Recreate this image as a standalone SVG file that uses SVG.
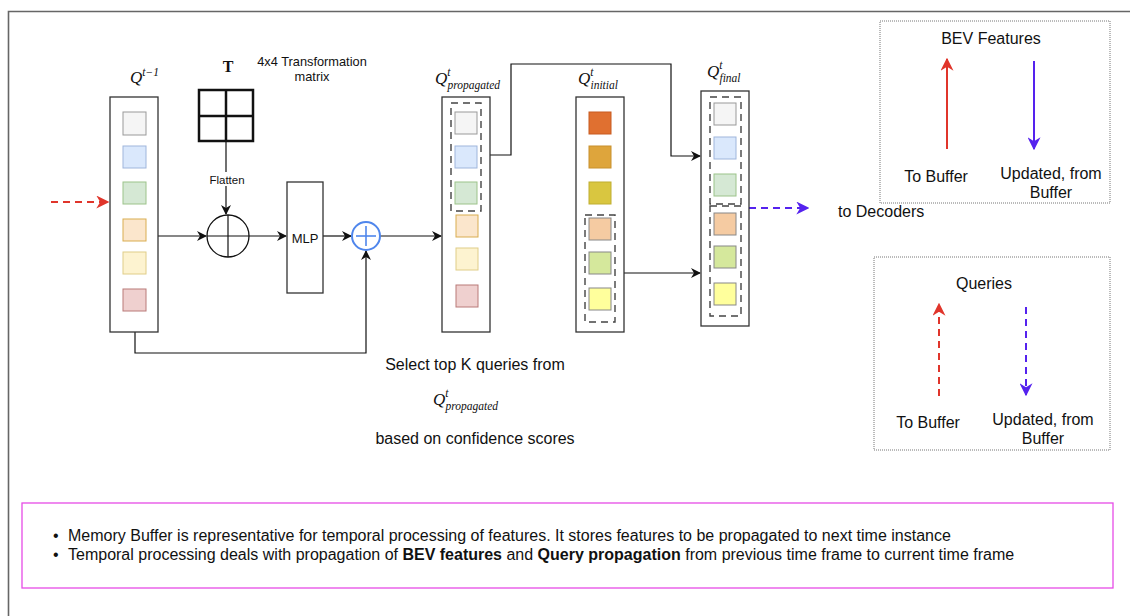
<svg xmlns="http://www.w3.org/2000/svg" width="1130" height="616" viewBox="0 0 1130 616">
  <style>
    .col { fill: #ffffff; stroke: #333333; stroke-width: 1.3; }
    .grp { fill: none; stroke: #444444; stroke-width: 1.4; stroke-dasharray: 7 5; }
    .edge { fill: none; stroke: #111111; stroke-width: 1.2; }
    .flow-in { fill: none; stroke: #e0352b; stroke-width: 2; stroke-dasharray: 7 5; }
    .flow-out { fill: none; stroke: #5522ee; stroke-width: 2; stroke-dasharray: 7 5; }
    .lbl { font-family: "Liberation Sans", Arial, sans-serif; fill: #111111; }
    .math { font-family: "Liberation Serif", "DejaVu Serif", serif; font-style: italic; fill: #111111; }
    .legend { fill: none; stroke: #777777; stroke-width: 1; stroke-dasharray: 1 1; }
  </style>
  <defs>
    <marker id="ah" viewBox="0 0 10 10" refX="9" refY="5" markerWidth="10" markerHeight="10" markerUnits="userSpaceOnUse" orient="auto">
      <path d="M0,0 L10,5 L0,10 L3,5 z" fill="#111111"/>
    </marker>
    <marker id="ahRed" viewBox="0 0 10 10" refX="9" refY="5" markerWidth="13" markerHeight="13" markerUnits="userSpaceOnUse" orient="auto">
      <path d="M0,0 L10,5 L0,10 L3,5 z" fill="#e0352b"/>
    </marker>
    <marker id="ahBlue" viewBox="0 0 10 10" refX="9" refY="5" markerWidth="13" markerHeight="13" markerUnits="userSpaceOnUse" orient="auto">
      <path d="M0,0 L10,5 L0,10 L3,5 z" fill="#5522ee"/>
    </marker>
  </defs>

  <rect width="1130" height="616" fill="#ffffff"/>
  <!-- frame -->
  <path d="M8.5,616 L8.5,11.5 L1130,11.5" fill="none" stroke="#666666" stroke-width="1.6"/>

  <!-- connectors -->
  <g id="connectors">
    <path class="flow-in" d="M51,202 L108,202" marker-end="url(#ahRed)"/>
    <path class="edge" d="M226,141 L226,214" marker-end="url(#ah)"/>
    <path class="edge" d="M158,236 L206,236" marker-end="url(#ah)"/>
    <path class="edge" d="M249,236 L286,236" marker-end="url(#ah)"/>
    <path class="edge" d="M323,236 L351,236" marker-end="url(#ah)"/>
    <path class="edge" d="M135,332 L135,353 L366,353 L366,251" marker-end="url(#ah)"/>
    <path class="edge" d="M380,236 L441,236" marker-end="url(#ah)"/>
    <path class="edge" d="M490,155 L511,155 L511,64 L671,64 L671,156 L700,156" marker-end="url(#ah)"/>
    <path class="edge" d="M624,273 L700,273" marker-end="url(#ah)"/>
    <path class="flow-out" d="M749,208 L808,208" marker-end="url(#ahBlue)"/>
  </g>

  <!-- previous queries -->
  <g id="q-prev">
    <text class="math" x="130" y="83" font-size="17">Q<tspan font-size="11.5" dy="-7">t−1</tspan></text>
    <rect class="col" x="110" y="97" width="48" height="235"/>
    <rect x="123" y="112" width="23" height="23" fill="#f5f5f5" stroke="#999999"/>
    <rect x="123" y="146" width="23" height="22" fill="#dae8fc" stroke="#9fb6dc"/>
    <rect x="123" y="182" width="23" height="22" fill="#d5e8d4" stroke="#9cc38a"/>
    <rect x="123" y="219" width="23" height="22" fill="#fbe6cc" stroke="#d9ad50"/>
    <rect x="123" y="252" width="23" height="22" fill="#fdf3d0" stroke="#e0cd88"/>
    <rect x="123" y="289" width="23" height="22" fill="#efd0cf" stroke="#b97a78"/>
  </g>

  <!-- transformation matrix -->
  <g id="matrix">
    <text x="228" y="72" font-family="Liberation Serif, serif" font-weight="bold" font-size="16" text-anchor="middle" fill="#111">T</text>
    <text class="lbl" x="312" y="66" font-size="12.8" text-anchor="middle">4x4 Transformation</text>
    <text class="lbl" x="312" y="81" font-size="12.8" text-anchor="middle">matrix</text>
    <rect x="199" y="90" width="54" height="51" fill="#ffffff" stroke="#111111" stroke-width="2.5"/>
    <line x1="226" y1="90" x2="226" y2="141" stroke="#111111" stroke-width="2.5"/>
    <line x1="199" y1="116" x2="253" y2="116" stroke="#111111" stroke-width="2.5"/>
  </g>

  <g id="flatten-label">
    <rect x="206" y="172" width="42" height="14" fill="#ffffff"/>
    <text class="lbl" x="227" y="184" font-size="11.5" text-anchor="middle">Flatten</text>
  </g>

  <!-- concatenation -->
  <g id="concat">
    <circle cx="228" cy="236" r="21" fill="#ffffff" stroke="#111111" stroke-width="1.3"/>
    <line x1="207" y1="236" x2="249" y2="236" stroke="#111111" stroke-width="1.2"/>
    <line x1="228" y1="215" x2="228" y2="257" stroke="#111111" stroke-width="1.2"/>
  </g>

  <g id="mlp">
    <rect x="287" y="182" width="36" height="111" fill="#ffffff" stroke="#333333" stroke-width="1.3"/>
    <text class="lbl" x="305" y="243" font-size="13" text-anchor="middle">MLP</text>
  </g>

  <!-- addition -->
  <g id="add">
    <circle cx="366" cy="236" r="14" fill="#ffffff" stroke="#4f86ec" stroke-width="2"/>
    <line x1="356" y1="236" x2="376" y2="236" stroke="#4f86ec" stroke-width="1.6"/>
    <line x1="366" y1="226" x2="366" y2="246" stroke="#4f86ec" stroke-width="1.6"/>
  </g>

  <!-- propagated queries -->
  <g id="q-propagated">
    <text class="math" x="435" y="84" font-size="17">Q<tspan font-size="11.5" dy="-8">t</tspan><tspan font-size="11.5" dx="-3" dy="13">propagated</tspan></text>
    <rect class="col" x="442" y="97" width="48" height="235"/>
    <rect class="grp" x="451" y="103" width="30" height="108"/>
    <rect x="455" y="112" width="22" height="22" fill="#f5f5f5" stroke="#999999"/>
    <rect x="455" y="146" width="22" height="22" fill="#dae8fc" stroke="#9fb6dc"/>
    <rect x="455" y="182" width="22" height="22" fill="#d5e8d4" stroke="#9cc38a"/>
    <rect x="456" y="215" width="22" height="22" fill="#fbe6cc" stroke="#d9ad50"/>
    <rect x="456" y="248" width="22" height="22" fill="#fdf3d0" stroke="#e0cd88"/>
    <rect x="456" y="285" width="22" height="22" fill="#efd0cf" stroke="#b97a78"/>
  </g>

  <!-- initial queries -->
  <g id="q-initial">
    <text class="math" x="578" y="84" font-size="17">Q<tspan font-size="11.5" dy="-8">t</tspan><tspan font-size="11.5" dx="-3" dy="13">initial</tspan></text>
    <rect class="col" x="576" y="97" width="48" height="235"/>
    <rect x="589" y="112" width="22" height="22" fill="#e07030" stroke="#c85a20"/>
    <rect x="589" y="146" width="22" height="22" fill="#dea53c" stroke="#c8902c"/>
    <rect x="589" y="182" width="22" height="22" fill="#d9c640" stroke="#bfae30"/>
    <rect class="grp" x="585" y="215" width="30" height="107"/>
    <rect x="589" y="218" width="22" height="22" fill="#f5cba2" stroke="#888888"/>
    <rect x="589" y="252" width="22" height="22" fill="#d5e89c" stroke="#888888"/>
    <rect x="589" y="288" width="22" height="22" fill="#ffff9c" stroke="#888888"/>
  </g>

  <!-- final queries -->
  <g id="q-final">
    <text class="math" x="707" y="77" font-size="17">Q<tspan font-size="11.5" dy="-8">t</tspan><tspan font-size="11.5" dx="-3" dy="13">final</tspan></text>
    <rect class="col" x="701" y="91" width="48" height="235"/>
    <rect class="grp" x="710" y="97" width="31" height="107"/>
    <rect x="714" y="103" width="22" height="22" fill="#f5f5f5" stroke="#999999"/>
    <rect x="714" y="137" width="22" height="22" fill="#dae8fc" stroke="#9fb6dc"/>
    <rect x="714" y="174" width="22" height="22" fill="#d5e8d4" stroke="#9cc38a"/>
    <rect class="grp" x="710" y="206" width="31" height="110"/>
    <rect x="714" y="213" width="22" height="22" fill="#f5cba2" stroke="#888888"/>
    <rect x="714" y="246" width="22" height="22" fill="#d5e89c" stroke="#888888"/>
    <rect x="714" y="283" width="22" height="22" fill="#ffff9c" stroke="#888888"/>
  </g>

  <g id="to-decoders">
    <text class="lbl" x="838" y="217" font-size="16">to Decoders</text>
  </g>

  <!-- selection note -->
  <g id="select-note">
    <text class="lbl" x="475" y="370" font-size="16" text-anchor="middle">Select top K queries from</text>
    <text class="math" x="433" y="405" font-size="17">Q<tspan font-size="11.5" dy="-8">t</tspan><tspan font-size="11.5" dx="-3" dy="13">propagated</tspan></text>
    <text class="lbl" x="475" y="444" font-size="16" text-anchor="middle">based on confidence scores</text>
  </g>

  <!-- legend: BEV features -->
  <g id="legend-bev">
    <rect class="legend" x="880" y="21" width="230" height="182"/>
    <text class="lbl" x="991" y="44" font-size="16" text-anchor="middle">BEV Features</text>
    <line x1="947" y1="149" x2="947" y2="59" stroke="#e0352b" stroke-width="2" marker-end="url(#ahRed)"/>
    <line x1="1034" y1="61" x2="1034" y2="149" stroke="#5522ee" stroke-width="2" marker-end="url(#ahBlue)"/>
    <text class="lbl" x="936" y="182" font-size="16" text-anchor="middle">To Buffer</text>
    <text class="lbl" x="1051" y="179" font-size="16" text-anchor="middle">Updated, from</text>
    <text class="lbl" x="1051" y="198" font-size="16" text-anchor="middle">Buffer</text>
  </g>

  <!-- legend: queries -->
  <g id="legend-queries">
    <rect class="legend" x="874" y="257" width="236" height="193"/>
    <text class="lbl" x="984" y="289" font-size="16" text-anchor="middle">Queries</text>
    <line class="flow-in" x1="939" y1="396" x2="939" y2="304" marker-end="url(#ahRed)"/>
    <line class="flow-out" x1="1026" y1="307" x2="1026" y2="395" marker-end="url(#ahBlue)"/>
    <text class="lbl" x="928" y="428" font-size="16" text-anchor="middle">To Buffer</text>
    <text class="lbl" x="1043" y="425" font-size="16" text-anchor="middle">Updated, from</text>
    <text class="lbl" x="1043" y="444" font-size="16" text-anchor="middle">Buffer</text>
  </g>

  <!-- notes -->
  <g id="notes">
    <rect x="22" y="503" width="1091" height="85" fill="#ffffff" stroke="#e64ce6" stroke-width="1.3"/>
    <text class="lbl" x="53" y="541" font-size="16">•</text>
    <text class="lbl" x="68" y="541" font-size="16">Memory Buffer is representative for temporal processing of features. It stores features to be propagated to next time instance</text>
    <text class="lbl" x="53" y="560" font-size="16">•</text>
    <text class="lbl" x="68" y="560" font-size="16">Temporal processing deals with propagation of <tspan font-weight="bold">BEV features</tspan> and <tspan font-weight="bold">Query propagation</tspan> from previous time frame to current time frame</text>
  </g>
</svg>
